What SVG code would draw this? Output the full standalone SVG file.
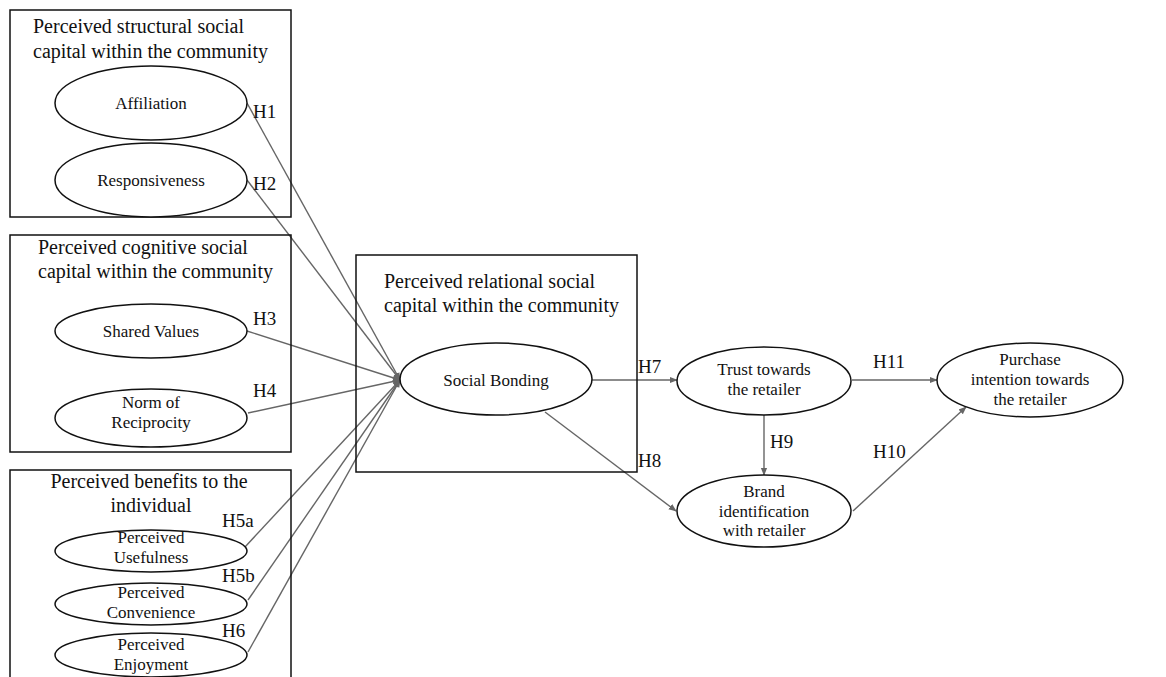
<svg xmlns="http://www.w3.org/2000/svg" width="1166" height="677" viewBox="0 0 1166 677">
<style>
.box{fill:none;stroke:#111;stroke-width:1.5}
.ell{fill:#fff;stroke:#111;stroke-width:1.5}
.t{font-family:"Liberation Serif","Times New Roman",serif;fill:#111}
.title{font-size:20px}
.lab{font-size:17px;text-anchor:middle}
.h{font-size:19px}
.c{fill:none;stroke:#666;stroke-width:1.4}
</style>
<defs>
<marker id="arr" viewBox="0 0 10 10" refX="9" refY="5" markerWidth="8" markerHeight="8" markerUnits="userSpaceOnUse" orient="auto">
<path d="M0,1 L10,5 L0,9 z" fill="#666"/>
</marker>
</defs>
<rect width="1166" height="677" fill="#fff"/>
<g id="connectors">
<line class="c" x1="247" y1="103" x2="400" y2="380" marker-end="url(#arr)"/>
<line class="c" x1="247" y1="180" x2="400" y2="380" marker-end="url(#arr)"/>
<line class="c" x1="247" y1="331" x2="400" y2="380" marker-end="url(#arr)"/>
<line class="c" x1="248" y1="413" x2="400" y2="380" marker-end="url(#arr)"/>
<line class="c" x1="245" y1="547" x2="400" y2="380" marker-end="url(#arr)"/>
<line class="c" x1="248" y1="600" x2="400" y2="380" marker-end="url(#arr)"/>
<line class="c" x1="248" y1="652" x2="400" y2="380" marker-end="url(#arr)"/>
<line class="c" x1="592" y1="380" x2="677" y2="380" marker-end="url(#arr)"/>
<line class="c" x1="545" y1="412" x2="676" y2="511" marker-end="url(#arr)"/>
<line class="c" x1="764" y1="415" x2="764" y2="475" marker-end="url(#arr)"/>
<line class="c" x1="852" y1="380" x2="937" y2="380" marker-end="url(#arr)"/>
<line class="c" x1="853" y1="511" x2="966" y2="407" marker-end="url(#arr)"/>
<text class="t h" x="253" y="118">H1</text>
<text class="t h" x="253" y="190">H2</text>
<text class="t h" x="253" y="325">H3</text>
<text class="t h" x="253" y="397">H4</text>
<text class="t h" x="222" y="527">H5a</text>
<text class="t h" x="222" y="582">H5b</text>
<text class="t h" x="222" y="637">H6</text>
<text class="t h" x="638" y="373">H7</text>
<text class="t h" x="638" y="467">H8</text>
<text class="t h" x="770" y="448">H9</text>
<text class="t h" x="873" y="458">H10</text>
<text class="t h" x="873" y="368">H11</text>
</g>
<g id="structural">
<rect class="box" x="10" y="10" width="281" height="207"/>
<text class="t title" x="33" y="33">Perceived structural social</text>
<text class="t title" x="33" y="58">capital within the community</text>
</g>
<g id="affiliation">
<ellipse class="ell" cx="151" cy="103" rx="96" ry="37"/>
<text class="t lab" x="151" y="109">Affiliation</text>
</g>
<g id="responsiveness">
<ellipse class="ell" cx="151" cy="180" rx="96" ry="37"/>
<text class="t lab" x="151" y="186">Responsiveness</text>
</g>
<g id="cognitive">
<rect class="box" x="10" y="235" width="281" height="217"/>
<text class="t title" x="38" y="254">Perceived cognitive social</text>
<text class="t title" x="38" y="278">capital within the community</text>
</g>
<g id="shared-values">
<ellipse class="ell" cx="151" cy="331" rx="96" ry="27"/>
<text class="t lab" x="151" y="337">Shared Values</text>
</g>
<g id="norm-reciprocity">
<ellipse class="ell" cx="151" cy="418" rx="96" ry="29"/>
<text class="t lab" x="151" y="408">Norm of</text>
<text class="t lab" x="151" y="428">Reciprocity</text>
</g>
<g id="benefits">
<rect class="box" x="10" y="470" width="281" height="220"/>
<text class="t title" x="149" y="488" text-anchor="middle">Perceived benefits to the</text>
<text class="t title" x="151" y="512" text-anchor="middle">individual</text>
</g>
<g id="usefulness">
<ellipse class="ell" cx="151" cy="551" rx="96" ry="21"/>
<text class="t lab" x="151" y="543">Perceived</text>
<text class="t lab" x="151" y="563">Usefulness</text>
</g>
<g id="convenience">
<ellipse class="ell" cx="151" cy="604" rx="96" ry="21"/>
<text class="t lab" x="151" y="598">Perceived</text>
<text class="t lab" x="151" y="618">Convenience</text>
</g>
<g id="enjoyment">
<ellipse class="ell" cx="151" cy="655" rx="96" ry="22"/>
<text class="t lab" x="151" y="650">Perceived</text>
<text class="t lab" x="151" y="670">Enjoyment</text>
</g>
<g id="relational">
<rect class="box" x="356" y="255" width="281" height="217"/>
<text class="t title" x="384" y="288">Perceived relational social</text>
<text class="t title" x="384" y="312">capital within the community</text>
</g>
<g id="social-bonding">
<ellipse class="ell" cx="496" cy="379" rx="96" ry="36"/>
<text class="t lab" x="496" y="386">Social Bonding</text>
</g>
<g id="trust">
<ellipse class="ell" cx="764" cy="381" rx="87" ry="34"/>
<text class="t lab" x="764" y="375">Trust towards</text>
<text class="t lab" x="764" y="395">the retailer</text>
</g>
<g id="brand">
<ellipse class="ell" cx="764" cy="511" rx="87" ry="36"/>
<text class="t lab" x="764" y="497">Brand</text>
<text class="t lab" x="764" y="517">identification</text>
<text class="t lab" x="764" y="536">with retailer</text>
</g>
<g id="purchase">
<ellipse class="ell" cx="1030" cy="380" rx="93" ry="37"/>
<text class="t lab" x="1030" y="365">Purchase</text>
<text class="t lab" x="1030" y="385">intention towards</text>
<text class="t lab" x="1030" y="405">the retailer</text>
</g>
</svg>
